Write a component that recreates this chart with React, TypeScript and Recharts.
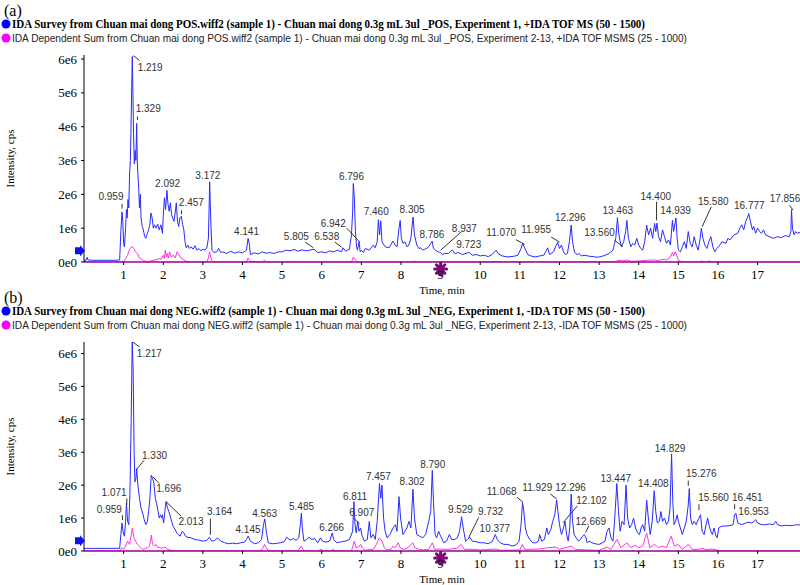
import React from 'react';
import { LineChart, Line, XAxis, YAxis, ReferenceDot, ReferenceLine } from 'recharts';

type Pt = [number, number];
type PeakLabel = [string, number, number];
type Leader = [number, number, number, number];

// ---------- axis ticks ----------
const timeTicks: number[] = [1, 2, 3, 4, 5, 6, 7, 8, 9, 10, 11, 12, 13, 14, 15, 16, 17];
const intensityTicks: number[] = [0, 1, 2, 3, 4, 5, 6];

// ---------- legend texts ----------
const legendPos: string[] = [
  'IDA Survey from Chuan mai dong POS.wiff2 (sample 1) - Chuan mai dong 0.3g mL 3ul _POS, Experiment 1, +IDA TOF MS (50 - 1500)',
  'IDA Dependent Sum from Chuan mai dong POS.wiff2 (sample 1) - Chuan mai dong 0.3g mL 3ul _POS, Experiment 2-13, +IDA TOF MSMS (25 - 1000)',
];
const legendNeg: string[] = [
  'IDA Survey from Chuan mai dong NEG.wiff2 (sample 1) - Chuan mai dong 0.3g mL 3ul _NEG, Experiment 1, -IDA TOF MS (50 - 1500)',
  'IDA Dependent Sum from Chuan mai dong NEG.wiff2 (sample 1) - Chuan mai dong 0.3g mL 3ul _NEG, Experiment 2-13, -IDA TOF MSMS (25 - 1000)',
];

// ---------- (a) POS: survey TIC (time min, intensity x1e6 cps) ----------
const surveyPos: Pt[] = [
  [0, 0.05], [0.05, 0.05], [0.08, 0.14], [0.1, 0.06], [0.2, 0.05], [0.4, 0.05], [0.6, 0.05], [0.8, 0.05], [0.9, 0.06],
  [0.93, 0.9], [0.959, 1.48], [0.98, 1.2], [1.0, 0.55], [1.02, 0.45], [1.05, 1.0], [1.07, 1.55], [1.09, 1.3], [1.11, 1.85],
  [1.13, 1.6], [1.15, 2.6], [1.17, 3.0], [1.19, 4.2], [1.205, 5.2], [1.219, 6.08], [1.235, 5.0], [1.25, 3.8], [1.27, 2.9],
  [1.29, 3.3], [1.31, 3.0], [1.329, 4.1], [1.345, 3.0], [1.36, 2.6], [1.38, 2.2], [1.4, 1.6], [1.42, 2.0], [1.44, 1.3],
  [1.47, 1.05], [1.5, 0.95], [1.53, 0.75], [1.56, 0.7], [1.6, 0.85], [1.63, 0.95], [1.66, 1.1], [1.69, 1.45], [1.72, 1.3],
  [1.75, 1.0], [1.78, 1.1], [1.82, 1.0], [1.86, 1.12], [1.9, 0.95], [1.94, 1.1], [1.98, 0.85], [2.0, 1.35], [2.03, 1.9],
  [2.06, 1.55], [2.092, 2.12], [2.12, 1.7], [2.15, 1.5], [2.18, 1.75], [2.21, 1.4], [2.24, 1.3], [2.27, 1.2], [2.3, 1.45],
  [2.33, 1.75], [2.36, 1.2], [2.39, 1.05], [2.42, 1.3], [2.457, 1.35], [2.49, 1.1], [2.52, 0.95], [2.55, 0.6], [2.58, 0.42],
  [2.62, 0.5], [2.66, 0.4], [2.7, 0.45], [2.75, 0.38], [2.8, 0.48], [2.85, 0.35], [2.9, 0.4], [2.95, 0.33], [3.0, 0.38],
  [3.05, 0.35], [3.1, 0.42], [3.14, 0.7], [3.172, 2.37], [3.2, 1.2], [3.23, 0.35], [3.28, 0.28], [3.35, 0.3], [3.4, 0.4],
  [3.45, 0.28], [3.5, 0.3], [3.6, 0.25], [3.7, 0.32], [3.8, 0.26], [3.9, 0.3], [4.0, 0.27], [4.1, 0.35], [4.141, 0.7],
  [4.17, 0.55], [4.2, 0.22], [4.3, 0.27], [4.4, 0.24], [4.5, 0.3], [4.6, 0.26], [4.7, 0.28], [4.8, 0.25], [4.9, 0.3],
  [5.0, 0.3], [5.1, 0.35], [5.2, 0.33], [5.3, 0.37], [5.4, 0.32], [5.5, 0.36], [5.6, 0.33], [5.7, 0.35], [5.805, 0.38],
  [5.9, 0.28], [6.0, 0.3], [6.1, 0.27], [6.2, 0.33], [6.3, 0.3], [6.4, 0.35], [6.5, 0.3], [6.538, 0.42], [6.6, 0.32],
  [6.7, 0.38], [6.75, 0.8], [6.78, 1.5], [6.796, 2.32], [6.82, 1.95], [6.85, 0.9], [6.88, 0.45], [6.9, 0.35], [6.942, 0.6],
  [6.97, 0.3], [7.0, 0.35], [7.05, 0.28], [7.1, 0.4], [7.2, 0.35], [7.3, 0.5], [7.35, 0.42], [7.4, 0.6], [7.43, 1.25],
  [7.46, 0.8], [7.49, 1.22], [7.52, 0.6], [7.6, 0.45], [7.7, 0.42], [7.8, 0.62], [7.85, 0.5], [7.9, 0.45], [7.95, 1.0],
  [7.98, 1.23], [8.01, 0.7], [8.05, 0.55], [8.1, 0.6], [8.15, 0.45], [8.2, 0.5], [8.25, 0.7], [8.305, 1.33], [8.34, 0.8],
  [8.4, 0.5], [8.45, 0.4], [8.5, 0.42], [8.55, 0.35], [8.6, 0.38], [8.65, 0.4], [8.7, 0.45], [8.75, 0.55], [8.786, 0.62],
  [8.82, 0.4], [8.87, 0.35], [8.937, 0.3], [9.0, 0.28], [9.05, 0.22], [9.1, 0.25], [9.2, 0.25], [9.25, 0.32], [9.3, 0.35],
  [9.35, 0.25], [9.45, 0.28], [9.55, 0.22], [9.65, 0.26], [9.723, 0.28], [9.8, 0.2], [9.9, 0.22], [10.0, 0.18], [10.1, 0.2],
  [10.2, 0.16], [10.3, 0.22], [10.4, 0.35], [10.45, 0.25], [10.55, 0.18], [10.7, 0.15], [10.85, 0.17], [10.95, 0.2],
  [11.03, 0.4], [11.07, 0.55], [11.12, 0.42], [11.2, 0.22], [11.3, 0.17], [11.4, 0.15], [11.5, 0.18], [11.6, 0.2],
  [11.65, 0.3], [11.7, 0.42], [11.75, 0.22], [11.85, 0.3], [11.9, 0.45], [11.955, 0.58], [12.0, 0.4], [12.05, 0.5],
  [12.1, 0.3], [12.15, 0.22], [12.2, 0.25], [12.25, 0.6], [12.296, 1.09], [12.33, 0.6], [12.38, 0.28], [12.45, 0.22],
  [12.5, 0.25], [12.55, 0.18], [12.65, 0.2], [12.75, 0.17], [12.85, 0.16], [12.95, 0.14], [13.05, 0.16], [13.15, 0.2],
  [13.25, 0.25], [13.35, 0.35], [13.42, 0.7], [13.463, 1.31], [13.5, 0.8], [13.56, 0.45], [13.62, 0.6], [13.67, 0.9],
  [13.7, 1.23], [13.74, 0.7], [13.8, 0.45], [13.85, 0.55], [13.9, 0.5], [13.95, 0.7], [14.0, 0.5], [14.05, 0.4], [14.1, 0.35],
  [14.15, 0.6], [14.2, 1.09], [14.25, 0.8], [14.3, 1.0], [14.35, 0.7], [14.4, 1.14], [14.43, 0.9], [14.46, 1.15], [14.5, 0.75],
  [14.55, 0.6], [14.6, 0.95], [14.65, 0.75], [14.7, 0.55], [14.75, 0.65], [14.8, 0.5], [14.85, 1.23], [14.88, 0.9],
  [14.939, 1.3], [14.97, 0.7], [15.0, 0.35], [15.05, 0.3], [15.1, 0.45], [15.15, 0.6], [15.2, 0.4], [15.25, 0.9], [15.3, 0.55],
  [15.35, 0.45], [15.4, 0.75], [15.45, 0.5], [15.5, 0.35], [15.55, 0.7], [15.58, 1.0], [15.62, 0.7], [15.67, 0.5],
  [15.72, 0.4], [15.77, 0.6], [15.82, 0.75], [15.87, 0.45], [15.92, 0.3], [15.97, 0.4], [16.05, 0.5], [16.1, 0.6],
  [16.2, 0.55], [16.25, 0.7], [16.3, 0.65], [16.4, 0.8], [16.5, 0.85], [16.55, 1.0], [16.6, 1.1], [16.65, 0.95], [16.7, 1.2],
  [16.74, 1.3], [16.777, 1.43], [16.82, 1.2], [16.87, 0.95], [16.9, 1.05], [16.95, 0.85], [17.0, 1.0], [17.05, 0.9],
  [17.1, 0.85], [17.15, 0.95], [17.2, 0.8], [17.3, 0.75], [17.4, 0.7], [17.5, 0.75], [17.6, 0.72], [17.7, 0.78], [17.8, 0.75],
  [17.84, 0.9], [17.856, 1.55], [17.88, 1.0], [17.92, 0.8], [17.96, 0.9], [18.0, 0.85], [18.07, 0.88],
];

// ---------- (a) POS: dependent sum ----------
const dependentPos: Pt[] = [
  [0, 0], [0.9, 0], [1.0, 0.02], [1.05, 0.1], [1.1, 0.2], [1.15, 0.38], [1.2, 0.45], [1.25, 0.42], [1.3, 0.3], [1.35, 0.25],
  [1.4, 0.12], [1.45, 0.08], [1.5, 0.04], [1.55, 0.02], [1.6, 0], [1.7, 0.04], [1.8, 0.06], [1.9, 0.1], [1.95, 0.08],
  [2.0, 0.2], [2.03, 0.1], [2.05, 0.35], [2.08, 0.15], [2.1, 0.25], [2.13, 0.12], [2.16, 0.3], [2.2, 0.15], [2.25, 0.2],
  [2.3, 0.12], [2.35, 0.3], [2.4, 0.2], [2.45, 0.12], [2.5, 0.08], [2.55, 0.03], [2.65, 0], [3.1, 0], [3.14, 0.12],
  [3.17, 0.3], [3.22, 0.05], [3.28, 0], [4.1, 0], [4.14, 0.12], [4.2, 0.02], [4.5, 0], [4.55, 0.05], [4.6, 0], [5.1, 0],
  [5.15, 0.02], [5.2, 0], [6.75, 0], [6.8, 0.15], [6.85, 0.05], [6.9, 0], [8.3, 0], [8.33, 0.03], [8.4, 0], [13.4, 0],
  [13.5, 0.05], [13.6, 0.03], [13.7, 0.06], [13.8, 0.02], [14.0, 0.03], [14.2, 0.05], [14.4, 0.06], [14.5, 0.04],
  [14.6, 0.08], [14.7, 0.06], [14.8, 0.15], [14.85, 0.28], [14.88, 0.18], [14.92, 0.3], [14.96, 0.18], [15.0, 0.05],
  [15.1, 0], [15.5, 0], [15.6, 0.03], [15.65, 0], [15.8, 0.03], [15.85, 0], [18.07, 0],
];

// ---------- (b) NEG: survey TIC ----------
const surveyNeg: Pt[] = [
  [0, 0.08], [0.3, 0.08], [0.6, 0.08], [0.9, 0.08], [0.93, 0.5], [0.959, 0.85], [0.99, 0.55], [1.02, 0.45], [1.05, 0.9],
  [1.071, 1.45], [1.1, 0.9], [1.13, 0.8], [1.16, 1.8], [1.19, 3.9], [1.217, 6.35], [1.24, 5.5], [1.265, 3.0], [1.285, 2.1],
  [1.31, 2.2], [1.33, 2.5], [1.36, 2.0], [1.4, 1.6], [1.44, 1.3], [1.48, 1.15], [1.52, 0.95], [1.56, 0.8], [1.6, 0.9],
  [1.63, 1.2], [1.66, 1.55], [1.696, 2.3], [1.73, 2.2], [1.76, 2.1], [1.8, 1.6], [1.83, 1.45], [1.87, 1.2], [1.9, 1.0],
  [1.93, 1.1], [1.96, 1.0], [1.98, 1.1], [2.01, 0.85], [2.04, 1.2], [2.07, 1.5], [2.1, 1.35], [2.14, 1.2], [2.17, 1.1],
  [2.21, 0.9], [2.25, 0.75], [2.3, 0.65], [2.34, 0.55], [2.38, 0.5], [2.43, 0.45], [2.48, 0.6], [2.52, 0.55], [2.56, 0.45],
  [2.6, 0.42], [2.7, 0.4], [2.8, 0.35], [2.9, 0.33], [3.0, 0.3], [3.1, 0.32], [3.164, 0.42], [3.22, 0.3], [3.3, 0.32],
  [3.37, 0.4], [3.45, 0.3], [3.55, 0.25], [3.65, 0.22], [3.75, 0.24], [3.85, 0.22], [3.95, 0.25], [4.05, 0.27], [4.1, 0.35],
  [4.145, 0.45], [4.2, 0.3], [4.3, 0.22], [4.4, 0.25], [4.48, 0.35], [4.53, 0.8], [4.563, 0.97], [4.6, 0.6], [4.65, 0.25],
  [4.75, 0.22], [4.85, 0.23], [4.95, 0.25], [5.05, 0.28], [5.12, 0.42], [5.2, 0.33], [5.28, 0.38], [5.35, 0.32], [5.42, 0.4],
  [5.46, 0.8], [5.485, 1.15], [5.51, 0.7], [5.55, 0.3], [5.62, 0.35], [5.68, 0.42], [5.75, 0.35], [5.82, 0.38], [5.9, 0.25],
  [5.97, 0.4], [6.02, 0.3], [6.1, 0.27], [6.2, 0.3], [6.266, 0.55], [6.3, 0.35], [6.38, 0.25], [6.5, 0.28], [6.6, 0.3],
  [6.7, 0.35], [6.78, 0.6], [6.811, 1.5], [6.84, 0.8], [6.87, 0.55], [6.907, 0.9], [6.94, 0.6], [6.98, 0.7], [7.02, 0.45],
  [7.08, 0.3], [7.15, 0.35], [7.2, 0.9], [7.24, 0.4], [7.3, 0.5], [7.35, 0.35], [7.4, 0.9], [7.457, 2.05], [7.49, 1.6],
  [7.52, 2.0], [7.56, 1.0], [7.6, 0.6], [7.65, 0.4], [7.72, 0.5], [7.8, 0.7], [7.86, 0.8], [7.9, 0.6], [7.95, 1.65],
  [7.99, 1.0], [8.05, 0.5], [8.1, 0.6], [8.15, 0.7], [8.2, 0.9], [8.25, 0.7], [8.302, 1.88], [8.34, 1.0], [8.4, 0.5],
  [8.47, 0.45], [8.55, 0.4], [8.62, 0.5], [8.7, 0.9], [8.75, 1.2], [8.79, 2.45], [8.82, 1.5], [8.86, 0.5], [8.9, 0.4],
  [8.95, 0.6], [9.0, 0.45], [9.08, 0.25], [9.15, 0.3], [9.22, 0.5], [9.28, 0.35], [9.35, 0.35], [9.42, 0.4], [9.48, 0.6],
  [9.529, 1.04], [9.57, 0.7], [9.63, 0.3], [9.68, 0.35], [9.732, 0.42], [9.8, 0.3], [9.9, 0.28], [10.0, 0.25], [10.1, 0.25],
  [10.2, 0.22], [10.3, 0.28], [10.38, 0.5], [10.43, 0.35], [10.5, 0.25], [10.6, 0.2], [10.7, 0.2], [10.8, 0.15], [10.9, 0.18],
  [10.98, 0.3], [11.03, 0.8], [11.068, 1.47], [11.1, 1.2], [11.14, 0.7], [11.18, 0.5], [11.25, 0.35], [11.32, 0.25],
  [11.4, 0.25], [11.47, 0.3], [11.5, 0.5], [11.55, 0.3], [11.62, 0.35], [11.68, 0.7], [11.72, 0.5], [11.78, 0.65],
  [11.83, 0.9], [11.88, 1.1], [11.929, 1.55], [11.96, 1.2], [12.0, 0.8], [12.05, 0.5], [12.1, 0.7], [12.14, 0.9],
  [12.18, 0.5], [12.22, 0.3], [12.26, 0.7], [12.296, 1.73], [12.33, 0.9], [12.37, 0.5], [12.42, 0.4], [12.48, 0.3],
  [12.53, 0.35], [12.58, 0.45], [12.63, 0.5], [12.669, 0.4], [12.7, 0.25], [12.75, 0.3], [12.82, 0.25], [12.9, 0.22],
  [13.0, 0.2], [13.08, 0.25], [13.15, 0.3], [13.2, 0.6], [13.25, 0.7], [13.3, 0.4], [13.35, 0.3], [13.39, 0.9],
  [13.447, 2.05], [13.49, 1.2], [13.53, 0.6], [13.58, 0.9], [13.63, 0.8], [13.68, 2.0], [13.72, 1.0], [13.77, 0.7],
  [13.82, 0.8], [13.87, 1.0], [13.92, 0.7], [13.97, 0.55], [14.02, 0.5], [14.06, 0.7], [14.1, 0.8], [14.15, 0.6],
  [14.2, 1.55], [14.25, 0.9], [14.29, 0.5], [14.34, 0.9], [14.39, 1.83], [14.43, 1.2], [14.47, 0.85], [14.52, 0.9],
  [14.56, 1.2], [14.6, 0.9], [14.65, 1.0], [14.7, 0.8], [14.75, 0.9], [14.79, 1.3], [14.829, 2.95], [14.86, 1.5],
  [14.89, 0.8], [14.93, 0.9], [14.97, 1.1], [15.0, 0.9], [15.05, 0.7], [15.1, 0.5], [15.15, 0.7], [15.2, 0.9], [15.25, 1.4],
  [15.276, 1.9], [15.31, 1.0], [15.35, 0.8], [15.4, 0.9], [15.45, 0.8], [15.5, 0.95], [15.56, 1.1], [15.6, 0.6], [15.65, 0.5],
  [15.7, 0.8], [15.74, 1.0], [15.78, 0.75], [15.82, 0.6], [15.86, 0.5], [15.9, 0.7], [15.95, 0.45], [15.98, 0.4],
  [16.02, 0.7], [16.08, 0.75], [16.2, 0.76], [16.3, 0.77], [16.38, 0.8], [16.42, 1.1], [16.451, 1.15], [16.5, 0.85],
  [16.6, 0.8], [16.7, 0.85], [16.78, 0.88], [16.85, 0.85], [16.91, 0.9], [16.953, 0.95], [17.0, 0.85], [17.1, 0.8],
  [17.2, 0.8], [17.3, 0.82], [17.4, 0.8], [17.46, 0.9], [17.5, 0.8], [17.6, 0.76], [17.7, 0.78], [17.8, 0.77], [17.9, 0.78],
  [18.0, 0.8], [18.07, 0.79],
];

// ---------- (b) NEG: dependent sum ----------
const dependentNeg: Pt[] = [
  [0, 0], [0.9, 0], [0.96, 0.1], [1.0, 0.05], [1.05, 0.15], [1.1, 0.3], [1.15, 0.2], [1.2, 0.55], [1.22, 0.7], [1.26, 0.4],
  [1.3, 0.3], [1.35, 0.2], [1.4, 0.15], [1.45, 0.08], [1.5, 0.05], [1.55, 0.08], [1.6, 0.1], [1.65, 0.15], [1.68, 0.3],
  [1.7, 0.48], [1.73, 0.2], [1.77, 0.15], [1.82, 0.2], [1.86, 0.1], [1.9, 0.12], [1.95, 0.08], [2.0, 0.1], [2.05, 0.12],
  [2.1, 0.05], [2.2, 0.02], [2.3, 0], [4.45, 0], [4.52, 0.1], [4.56, 0.2], [4.62, 0.05], [4.7, 0], [5.4, 0], [5.48, 0.15],
  [5.55, 0], [5.9, 0], [5.98, 0.05], [6.05, 0], [6.25, 0], [6.28, 0.06], [6.32, 0], [6.75, 0], [6.82, 0.3], [6.87, 0.1],
  [6.93, 0.12], [6.98, 0.2], [7.03, 0.08], [7.1, 0.02], [7.2, 0.05], [7.3, 0.05], [7.38, 0.2], [7.45, 0.4], [7.52, 0.3],
  [7.58, 0.1], [7.65, 0.03], [7.75, 0.05], [7.8, 0.15], [7.85, 0.1], [7.93, 0.25], [7.98, 0.1], [8.05, 0.05], [8.15, 0.08],
  [8.3, 0.25], [8.35, 0.1], [8.45, 0.05], [8.55, 0.03], [8.7, 0.05], [8.79, 0.25], [8.85, 0.05], [9.0, 0.06], [9.2, 0.05],
  [9.4, 0.08], [9.52, 0.2], [9.6, 0.05], [9.8, 0.05], [10.0, 0.03], [10.4, 0.06], [10.5, 0.02], [11.0, 0.03], [11.06, 0.2],
  [11.12, 0.05], [11.5, 0.06], [11.7, 0.1], [11.9, 0.12], [12.0, 0.05], [12.15, 0.1], [12.3, 0.15], [12.4, 0.05],
  [12.7, 0.03], [13.0, 0.02], [13.2, 0.12], [13.3, 0.05], [13.45, 0.35], [13.55, 0.1], [13.7, 0.25], [13.8, 0.1],
  [13.9, 0.18], [14.0, 0.1], [14.1, 0.15], [14.2, 0.55], [14.28, 0.1], [14.4, 0.2], [14.5, 0.1], [14.6, 0.15], [14.7, 0.1],
  [14.82, 0.45], [14.9, 0.15], [15.0, 0.2], [15.1, 0.05], [15.25, 0.2], [15.35, 0.05], [15.5, 0.05], [15.6, 0.08],
  [15.7, 0.04], [15.85, 0.06], [16.0, 0.02], [16.1, 0], [18.07, 0],
];

// ---------- peak annotations: [text, time, intensity] ----------
const peakLabelsPos: PeakLabel[] = [
  ['1.219', 1.67, 5.76], ['1.329', 1.62, 4.54], ['0.959', 0.68, 1.94], ['2.092', 2.11, 2.32], ['2.457', 2.71, 1.75],
  ['3.172', 3.125, 2.57], ['4.141', 4.1, 0.91], ['5.805', 5.36, 0.76], ['6.538', 6.125, 0.76], ['6.942', 6.29, 1.15],
  ['6.796', 6.75, 2.54], ['7.460', 7.375, 1.48], ['8.305', 8.28, 1.55], ['8.786', 8.78, 0.82], ['8.937', 9.6, 1.0],
  ['9.723', 9.71, 0.51], ['11.070', 10.53, 0.88], ['11.955', 11.41, 0.97], ['12.296', 12.27, 1.31], ['13.560', 13.01, 0.86],
  ['13.463', 13.47, 1.51], ['14.400', 14.43, 1.94], ['14.939', 14.93, 1.51], ['15.580', 15.88, 1.8], ['16.777', 16.79, 1.66],
  ['17.856', 17.69, 1.88],
];
const leadersPos: Leader[] = [
  [1.25, 6.1, 1.4, 5.96], [1.35, 4.3, 1.35, 4.2], [0.96, 1.72, 0.96, 1.58], [2.46, 1.53, 2.46, 1.41],
  [5.58, 0.59, 5.79, 0.42], [6.33, 0.59, 6.5, 0.44], [6.63, 1.0, 6.96, 0.59], [9.52, 0.89, 9.0, 0.35],
  [10.9, 0.66, 11.12, 0.52], [11.79, 0.74, 12.0, 0.59], [13.39, 0.64, 13.6, 0.46], [14.45, 1.78, 14.45, 1.23],
  [15.83, 1.63, 15.6, 1.04], [17.8, 1.68, 17.9, 1.53],
];
const peakLabelsNeg: PeakLabel[] = [
  ['1.217', 1.65, 6.0], ['1.330', 1.78, 2.9], ['1.071', 0.76, 1.77], ['0.959', 0.64, 1.27], ['1.696', 2.14, 1.9],
  ['2.013', 2.7, 0.89], ['3.164', 3.42, 1.19], ['4.145', 4.14, 0.66], ['4.563', 4.56, 1.14], ['5.485', 5.49, 1.35],
  ['6.266', 6.25, 0.71], ['6.811', 6.84, 1.65], ['6.907', 7.01, 1.16], ['7.457', 7.43, 2.26], ['8.302', 8.28, 2.1],
  ['8.790', 8.8, 2.64], ['9.529', 9.5, 1.27], ['9.732', 10.26, 1.2], ['10.377', 10.37, 0.69], ['11.068', 10.54, 1.8],
  ['11.929', 11.44, 1.93], ['12.296', 12.28, 1.93], ['12.102', 12.81, 1.53], ['12.669', 12.79, 0.89], ['13.447', 13.42, 2.2],
  ['14.408', 14.37, 2.05], ['14.829', 14.79, 3.12], ['15.276', 15.58, 2.34], ['15.560', 15.89, 1.63], ['16.451', 16.74, 1.63],
  ['16.953', 16.9, 1.19],
];
const leadersNeg: Leader[] = [
  [1.23, 6.35, 1.4, 6.2], [1.52, 2.76, 1.31, 2.46], [1.08, 1.6, 1.08, 1.4], [0.97, 1.09, 0.97, 0.94],
  [1.73, 2.26, 1.9, 2.05], [2.07, 1.5, 2.45, 1.06], [3.19, 0.99, 3.19, 0.49], [6.8, 1.01, 6.95, 0.82],
  [9.96, 1.02, 9.71, 0.41], [10.93, 1.63, 11.08, 1.48], [11.77, 1.73, 11.93, 1.58], [12.45, 1.37, 12.09, 0.86],
  [12.74, 0.76, 12.66, 0.56], [15.25, 2.14, 15.25, 1.98], [15.52, 1.42, 15.52, 1.24], [16.42, 1.42, 16.42, 1.27],
];

// markers: threshold arrow level and the sample-time asterisk
const thresholdPos = 0.33;
const thresholdNeg = 0.31;
const markerTime = 9;

const SERIF = "'Liberation Serif', 'Times New Roman', Times, serif";
const SANS = "'Liberation Sans', Arial, sans-serif";
const BLUE = '#2a2aff';
const PINK = '#ff33dd';

const toRows = (pts: Pt[]) => pts.map(([t, v]) => ({ t, v }));
const fmtY = (v: number) => (v === 0 ? '0e0' : `${v}e6`);

const ArrowShape = (p: any) => (
  <polygon
    points={`${p.cx - 9},${p.cy - 3.5} ${p.cx - 4},${p.cy - 3.5} ${p.cx - 4},${p.cy - 5.5} ${p.cx + 1},${p.cy} ${p.cx - 4},${p.cy + 5.5} ${p.cx - 4},${p.cy + 3.5} ${p.cx - 9},${p.cy + 3.5}`}
    fill="#1010ee"
  />
);

const StarShape = (p: any) => {
  const cx = p.cx;
  const cy = p.cy + 7;
  const r = 6;
  const arms = [0, 45, 90, 135].map((a) => {
    const rad = (a * Math.PI) / 180;
    return (
      <line key={a} x1={cx - r * Math.cos(rad)} y1={cy - r * Math.sin(rad)} x2={cx + r * Math.cos(rad)} y2={cy + r * Math.sin(rad)}
        stroke="#7a0a7a" strokeWidth={3} strokeLinecap="round" />
    );
  });
  return <g>{arms}<circle cx={cx} cy={cy} r={3} fill="#7a0a7a" /></g>;
};

function Header({ tag, texts, top }: { tag: string; texts: string[]; top: number }) {
  return (
    <svg width={800} height={44} style={{ position: 'absolute', left: 0, top }}>
      <text x={4} y={16} fontFamily={SERIF} fontSize={16} fill="#000">{tag}</text>
      <circle cx={6} cy={24} r={4.5} fill="#0000ff" />
      <text x={12} y={28} fontFamily={SERIF} fontSize={11.5} fontWeight="bold" fill="#000" textLength={633} lengthAdjust="spacingAndGlyphs">{texts[0]}</text>
      <circle cx={6} cy={38} r={4.5} fill="#ff00ff" />
      <text x={12} y={41.5} fontFamily={SANS} fontSize={10} fill="#222" textLength={675} lengthAdjust="spacingAndGlyphs">{texts[1]}</text>
    </svg>
  );
}

function Panel(props: {
  top: number; height: number; plotTop: number; plotBottom: number; yMax: number;
  survey: Pt[]; dependent: Pt[]; labels: PeakLabel[]; leaders: Leader[]; threshold: number;
}) {
  const { top, height, plotTop, plotBottom, yMax, survey, dependent, labels, leaders, threshold } = props;
  const xAxisHeight = height - plotBottom;
  return (
    <div style={{ position: 'absolute', left: 0, top }}>
      <LineChart width={800} height={height} margin={{ top: plotTop, right: 0, bottom: 0, left: 0 }}>
        <XAxis
          type="number" dataKey="t" domain={[0, 18.07]} ticks={timeTicks} allowDataOverflow
          height={xAxisHeight} tickSize={3} tickMargin={5}
          axisLine={{ stroke: '#990099', strokeWidth: 1.5 }} tickLine={{ stroke: '#000' }}
          tick={{ fontSize: 13, fill: '#000', fontFamily: SERIF }}
          label={(lp: any) => {
            const vb = lp.viewBox || { x: 84, y: plotBottom, width: 716 };
            return (
              <text x={vb.x + vb.width / 2} y={vb.y + 28} textAnchor="middle" dominantBaseline="central"
                fontFamily={SERIF} fontSize={11} fill="#000">Time, min</text>
            );
          }}
        />
        <YAxis
          type="number" domain={[0, yMax]} ticks={intensityTicks} allowDataOverflow width={84}
          tickSize={3} tickMargin={4} tickFormatter={fmtY}
          axisLine={{ stroke: '#000' }} tickLine={{ stroke: '#000' }}
          tick={{ fontSize: 13, fill: '#000', fontFamily: SERIF }}
          label={(lp: any) => {
            const vb = lp.viewBox || { x: 0, y: plotTop, width: 84, height: plotBottom - plotTop };
            const cy = vb.y + vb.height / 2;
            return (
              <text x={10} y={cy} transform={`rotate(-90, 10, ${cy})`} textAnchor="middle" dominantBaseline="central"
                fontFamily={SERIF} fontSize={11} fill="#000">Intensity, cps</text>
            );
          }}
        />
        <Line data={toRows(dependent)} dataKey="v" type="linear" stroke={PINK} strokeWidth={1} dot={false} isAnimationActive={false} />
        <Line data={toRows(survey)} dataKey="v" type="linear" stroke={BLUE} strokeWidth={1} dot={false} isAnimationActive={false} />
        {leaders.map((l, i) => (
          <ReferenceLine key={`ld${i}`} segment={[{ x: l[0], y: l[1] }, { x: l[2], y: l[3] }]} stroke="#333" strokeWidth={1} ifOverflow="visible" />
        ))}
        {labels.map((lb, i) => (
          <ReferenceDot key={`lb${i}`} x={lb[1]} y={lb[2]} r={0} ifOverflow="visible"
            shape={(p: any) => (
              <text x={p.cx} y={p.cy} textAnchor="middle" dominantBaseline="central" fontFamily={SANS} fontSize={10} fill="#333">{lb[0]}</text>
            )}
          />
        ))}
        <ReferenceDot x={0} y={threshold} r={0} ifOverflow="visible" shape={ArrowShape} />
        <ReferenceDot x={markerTime} y={0} r={0} ifOverflow="visible" shape={StarShape} />
      </LineChart>
    </div>
  );
}

export default function App() {
  return (
    <div style={{ position: 'absolute', left: 0, top: 0, width: 800, height: 585, background: '#fff', overflow: 'hidden' }}>
      <Header tag="(a)" texts={legendPos} top={0} />
      <Header tag="(b)" texts={legendNeg} top={287} />
      <Panel top={0} height={300} plotTop={55} plotBottom={262} yMax={6.12}
        survey={surveyPos} dependent={dependentPos} labels={peakLabelsPos} leaders={leadersPos} threshold={thresholdPos} />
      <Panel top={290} height={295} plotTop={52} plotBottom={261} yMax={6.35}
        survey={surveyNeg} dependent={dependentNeg} labels={peakLabelsNeg} leaders={leadersNeg} threshold={thresholdNeg} />
    </div>
  );
}
